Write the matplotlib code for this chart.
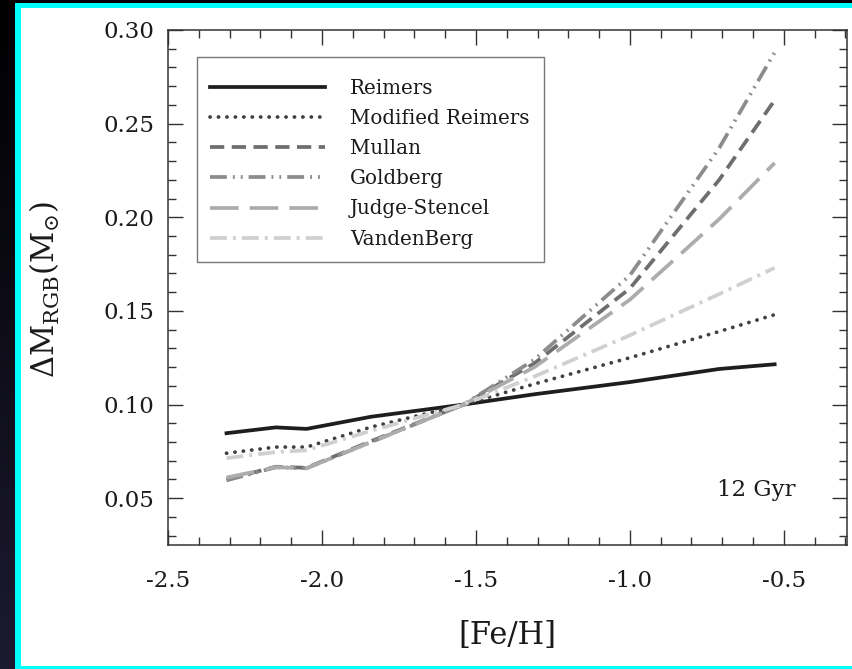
import numpy as np
import matplotlib
matplotlib.use("Agg")
import matplotlib.pyplot as plt
from matplotlib.patches import Rectangle
from matplotlib.ticker import MultipleLocator

# ---- data ----
feh = [-2.31, -2.15, -2.05, -1.84, -1.54, -1.31, -1.00, -0.71, -0.53]
reimers = [0.0847, 0.0878, 0.0870, 0.0935, 0.1000, 0.1055, 0.1120, 0.1190, 0.1215]
mod_reimers = [0.0740, 0.0773, 0.0773, 0.0880, 0.1000, 0.1110, 0.1250, 0.1390, 0.1480]
mullan = [0.0600, 0.0668, 0.0662, 0.0805, 0.1000, 0.1220, 0.1620, 0.2200, 0.2625]
goldberg = [0.0595, 0.0665, 0.0660, 0.0800, 0.1000, 0.1240, 0.1690, 0.2370, 0.2880]
judge = [0.0610, 0.0665, 0.0660, 0.0800, 0.1000, 0.1200, 0.1560, 0.1990, 0.2290]
vandenberg = [0.0714, 0.0746, 0.0756, 0.0860, 0.1000, 0.1150, 0.1370, 0.1590, 0.1730]
labels = ["Reimers", "Modified Reimers", "Mullan", "Goldberg", "Judge-Stencel", "VandenBerg"]
xticks = [-2.5, -2.0, -1.5, -1.0, -0.5]
yticks = [0.05, 0.10, 0.15, 0.20, 0.25, 0.30]

plt.rcParams['mathtext.fontset'] = 'dejavuserif'
serif = 'DejaVu Serif'

W, H = 853, 669
fig = plt.figure(figsize=(W / 100, H / 100), dpi=100)

# background gradient
bg = fig.add_axes([0, 0, 1, 1], zorder=-10)
grad = np.linspace(0, 1, 256).reshape(-1, 1)
c0 = np.array([0.0, 0.0, 0.0])
c1 = np.array([0x1c, 0x1a, 0x30]) / 255.0
img = c0[None, None, :] * (1 - grad[:, :, None]) + c1[None, None, :] * grad[:, :, None]
bg.imshow(img, aspect='auto', extent=[0, 1, 0, 1], origin='upper')
bg.set_xlim(0, 1)
bg.set_ylim(0, 1)
bg.axis('off')
bg.add_patch(Rectangle((15 / W, 0), 1, (H - 3) / H, transform=bg.transAxes,
                       facecolor='#00ffff', edgecolor='none'))
bg.add_patch(Rectangle((21 / W, 3 / H), 1, (H - 3 - 8) / H, transform=bg.transAxes,
                       facecolor='white', edgecolor='none'))

ax = fig.add_axes([168 / W, (H - 545) / H, (847 - 168) / W, (545 - 30) / H])
ax.set_facecolor('none')

LW = 2.7
styles = [
    dict(color='#1e1e1e', ls='-', lw=LW),
    dict(color='#404040', ls=(0, (0.05, 2.2)), lw=LW, dash_capstyle='round'),
    dict(color='#6e6e6e', ls=(0, (3.8, 2.0)), lw=LW),
    dict(color='#8c8c8c', ls=(0, (4.5, 1.6, 0.5, 1.6, 0.5, 1.6)), lw=LW),
    dict(color='#acacac', ls=(0, (7.6, 3.0)), lw=LW),
    dict(color='#d0d0d0', ls=(0, (4.5, 1.6, 0.8, 1.6)), lw=LW),
]
series = [reimers, mod_reimers, mullan, goldberg, judge, vandenberg]
for ys, lab, st in zip(series, labels, styles):
    ax.plot(feh, ys, label=lab, **st)

ax.set_xlim(-2.5, -0.295)
ax.set_ylim(0.025, 0.30)
ax.set_xticks(xticks)
ax.set_yticks(yticks)
ax.set_xticklabels(['%.1f' % v for v in xticks])
ax.set_yticklabels(['%.2f' % v for v in yticks])
ax.xaxis.set_minor_locator(MultipleLocator(0.1))
ax.yaxis.set_minor_locator(MultipleLocator(0.01))
ax.tick_params(which='both', direction='in', top=True, right=True, color='#333333', width=1.0)
ax.tick_params(which='major', length=11)
ax.tick_params(which='minor', length=6)
ax.tick_params(axis='y', which='major', pad=10)
ax.tick_params(axis='x', which='major', pad=18)
for lab in ax.get_xticklabels() + ax.get_yticklabels():
    lab.set_fontfamily(serif)
    lab.set_fontsize(16.5)
    lab.set_color('#1a1a1a')
for sp in ax.spines.values():
    sp.set_color('#333333')
    sp.set_linewidth(1.1)

# legend box drawn separately
ax.add_patch(Rectangle(((197 - 168) / 679, (545 - 262) / 515), (544 - 197) / 679, (262 - 57) / 515,
                       transform=ax.transAxes, facecolor='white', edgecolor='#777777',
                       lw=1.0, zorder=4))
leg = ax.legend(loc='upper left', bbox_to_anchor=((210 - 168) / 679, (545 - 79) / 515),
                borderaxespad=0, borderpad=0, prop={'family': serif, 'size': 14.3},
                handlelength=5.8, handletextpad=1.25, labelspacing=0.56, frameon=False)
leg.set_zorder(5)
for t in leg.get_texts():
    t.set_color('#1a1a1a')

fig.text(756 / W, 1 - 490 / H, '12 Gyr', fontsize=16.5, family=serif,
         ha='center', va='center', color='#1a1a1a')

fig.text(45 / W, 1 - 290 / H, r'$\Delta\mathrm{M}_{\mathrm{RGB}}(\mathrm{M}_{\odot})$',
         rotation=90, ha='center', va='center', fontsize=22, color='#1a1a1a')
fig.text(507 / W, 1 - 635 / H, '[Fe/H]', family=serif, ha='center', va='center',
         fontsize=22, color='#1a1a1a')

fig.savefig('out.png', dpi=100)
